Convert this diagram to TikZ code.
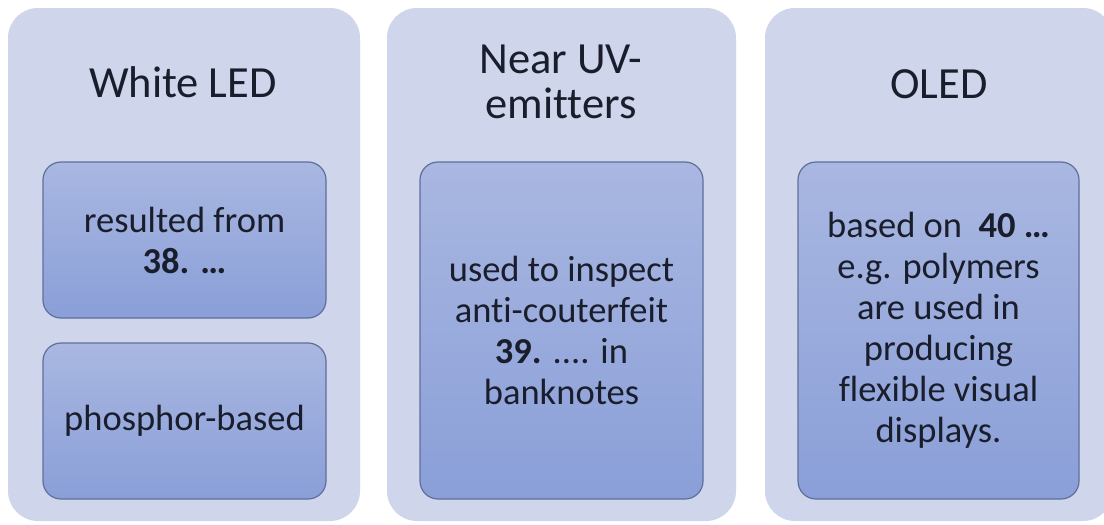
\documentclass[tikz,border=0pt]{standalone}
\usepackage{fontspec}
\setmainfont[Ligatures={NoCommon}]{Carlito}
\definecolor{panelc}{HTML}{CFD5EA}
\definecolor{boxtop}{HTML}{A9B7E1}
\definecolor{boxbot}{HTML}{8A9FD8}
\definecolor{boxline}{HTML}{5F6F9C}
\definecolor{textc}{HTML}{1A1E2C}
\tikzset{
  panel/.style={rectangle, rounded corners=30pt, fill=panelc, inner sep=0pt},
  inbox/.style={rectangle, rounded corners=18pt, top color=boxtop, bottom color=boxbot,
    draw=boxline, line width=1.2pt, inner sep=0pt, align=center, text=textc,
    font=\fontsize{36.5}{41}\selectfont},
  titletext/.style={align=center, text=textc, inner sep=0pt, font=\fontsize{44.5}{45}\selectfont}
}
\begin{document}
\begin{tikzpicture}[x=1pt,y=-1pt]
\useasboundingbox (0,0) rectangle (1104,525);
\clip (0,0) rectangle (1104,525);
\fill[white] (0,0) rectangle (1104,525);
% panels
\node[panel, minimum width=352pt, minimum height=513pt] (p1) at (184,264.5) {};
\node[panel, minimum width=349pt, minimum height=513pt] (p2) at (561.5,264.5) {};
\node[panel, minimum width=348pt, minimum height=513pt] (p3) at (939,264.5) {};
% titles
\node[titletext, anchor=base] (t1) at (183,97) {White LED};
\node[titletext] (t2) at (561,81.5) {Near UV-\\emitters};
\node[titletext, anchor=base] (t3) at (939,98) {OLED};
% inner boxes
\node[inbox, minimum width=283pt, minimum height=156pt] (b1) at (184.5,240) {resulted from\\\textbf{38. …}};
\node[inbox, minimum width=283pt, minimum height=156pt] (b2) at (184.5,421) {phosphor-based};
\node[inbox, minimum width=283pt, minimum height=337pt] (b3) at (561.5,330.5) {used to inspect\\anti-couterfeit\\\textbf{39.} .... in\\banknotes};
\node[inbox, minimum width=281pt, minimum height=337pt] (b4) at (938.5,330.5) {based on\ \ \textbf{40 …}\\e.g. polymers\\are used in\\producing\\flexible visual\\displays.};
\end{tikzpicture}
\end{document}
